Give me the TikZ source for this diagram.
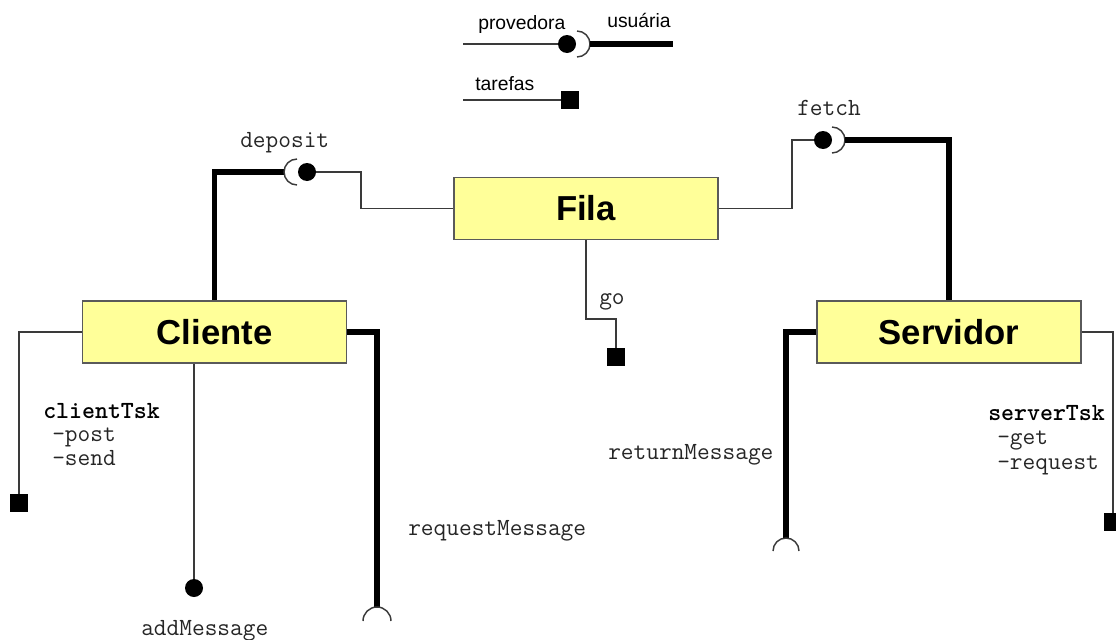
\documentclass[tikz,border=0pt]{standalone}
\usepackage{fontspec}
\setmainfont{Liberation Sans}
\usetikzlibrary{calc}

\definecolor{boxfill}{HTML}{FFFF99}
\definecolor{boxline}{HTML}{5A5A5A}
\definecolor{wire}{HTML}{3A3A3A}

\begin{document}
\begin{tikzpicture}[x=0.75pt,y=-0.75pt,
  comp/.style={draw=boxline, line width=1.2pt, fill=boxfill,
    minimum width=198pt, minimum height=46.5pt, inner sep=0pt,
    font=\fontsize{26}{30}\selectfont\bfseries},
  thinwire/.style={draw=wire, line width=1.1pt},
  thickwire/.style={draw=black, line width=3.8pt},
  ball/.style={circle, fill=black, minimum size=13.5pt, inner sep=0pt},
  task/.style={rectangle, fill=black, minimum size=13.5pt, inner sep=0pt},
  socket/.style={draw=wire, line width=1.1pt},
  lbl/.style={font=\ttfamily\fontsize{18.5}{20}\selectfont, text=black!85,
    inner sep=0pt, anchor=base west},
  lblb/.style={lbl, font=\ttfamily\bfseries\fontsize{18.5}{20}\selectfont, text=black},
  legend/.style={font=\fontsize{14.5}{17}\selectfont, inner sep=0pt, anchor=base west},
]
\useasboundingbox (0,0) rectangle (1116,639);

% ---------- legend ----------
\coordinate (legL) at (463,44);
\node[ball] (legB) at (567,44) {};
\coordinate (legS) at (577,44);
\coordinate (legU) at (590,44);
\coordinate (legR) at (673,44);
\draw[thinwire] (legL) -- (legB);
\draw[socket] (legS) ++(90:9.75pt) arc[start angle=90, end angle=-90, radius=9.75pt];
\draw[thickwire] (legU) -- (legR);
\node[legend] (tProv) at (478,29) {provedora};
\node[legend] (tUsu) at (607,27) {usuária};

\coordinate (legL2) at (463,100);
\node[task] (legT) at (570,100) {};
\draw[thinwire] (legL2) -- (legT);
\node[legend] (tTar) at (475,90) {tarefas};

% ---------- components ----------
\node[comp] (fila) at (586,208.5) {Fila};
\node[comp] (cliente) at (214.5,332) {Cliente};
\node[comp] (servidor) at (949,332) {Servidor};

% ---------- deposit ----------
\node[ball] (depB) at (307,172) {};
\coordinate (depS) at (297,172);
\coordinate (depU) at (284,172);
\draw[thickwire] (cliente.north) |- (depU);
\draw[socket] (depS) ++(90:9.75pt) arc[start angle=90, end angle=270, radius=9.75pt];
\coordinate (depK) at (361,208.5);
\draw[thinwire] (depB) -| (depK) -- (fila.west);
\node[lbl] (tDep) at (240,147) {deposit};

% ---------- fetch ----------
\node[ball] (fetB) at (823,140) {};
\coordinate (fetS) at (832,140);
\coordinate (fetU) at (845,140);
\draw[socket] (fetS) ++(90:9.75pt) arc[start angle=90, end angle=-90, radius=9.75pt];
\draw[thickwire] (fetU) -| (servidor.north);
\coordinate (fetK) at (792,208.5);
\draw[thinwire] (fila.east) -- (fetK) |- (fetB);
\node[lbl] (tFet) at (797,115) {fetch};

% ---------- go ----------
\node[task] (goT) at (616,357) {};
\coordinate (goK) at (586,319);
\draw[thinwire] (fila.south) -- (goK) -| (goT);
\node[lbl] (tGo) at (599,304) {go};

% ---------- Cliente ports ----------
\node[task] (cliT) at (19,503) {};
\draw[thinwire] (cliente.west) -| (cliT);
\node[lblb] (tCT) at (43,418) {clientTsk};
\node[lbl] (tPost) at (52,441) {-post};
\node[lbl] (tSend) at (52,465) {-send};

\node[ball] (addB) at (194,588) {};
\draw[thinwire] (cliente.south -| addB) -- (addB);
\node[lbl] (tAdd) at (141,635) {addMessage};

\coordinate (reqS) at (377,621);
\coordinate (reqU) at (377,607);
\draw[thickwire] (cliente.east) -| (reqU);
\draw[socket] (reqS) ++(0:10.5pt) arc[start angle=0, end angle=180, radius=10.5pt];
\node[lbl] (tReq) at (408,535) {requestMessage};

% ---------- Servidor ports ----------
\coordinate (retS) at (786,551);
\coordinate (retU) at (786,538);
\draw[thickwire] (servidor.west) -| (retU);
\draw[socket] (retS) ++(0:9.75pt) arc[start angle=0, end angle=180, radius=9.75pt];
\node[lbl] (tRet) at (608,459) {returnMessage};

\node[task] (svT) at (1113,522) {};
\draw[thinwire] (servidor.east) -| (svT);
\node[lblb] (tST) at (988,420) {serverTsk};
\node[lbl] (tGet) at (997,444) {-get};
\node[lbl] (tRqs) at (997,469) {-request};

\end{tikzpicture}
\end{document}
